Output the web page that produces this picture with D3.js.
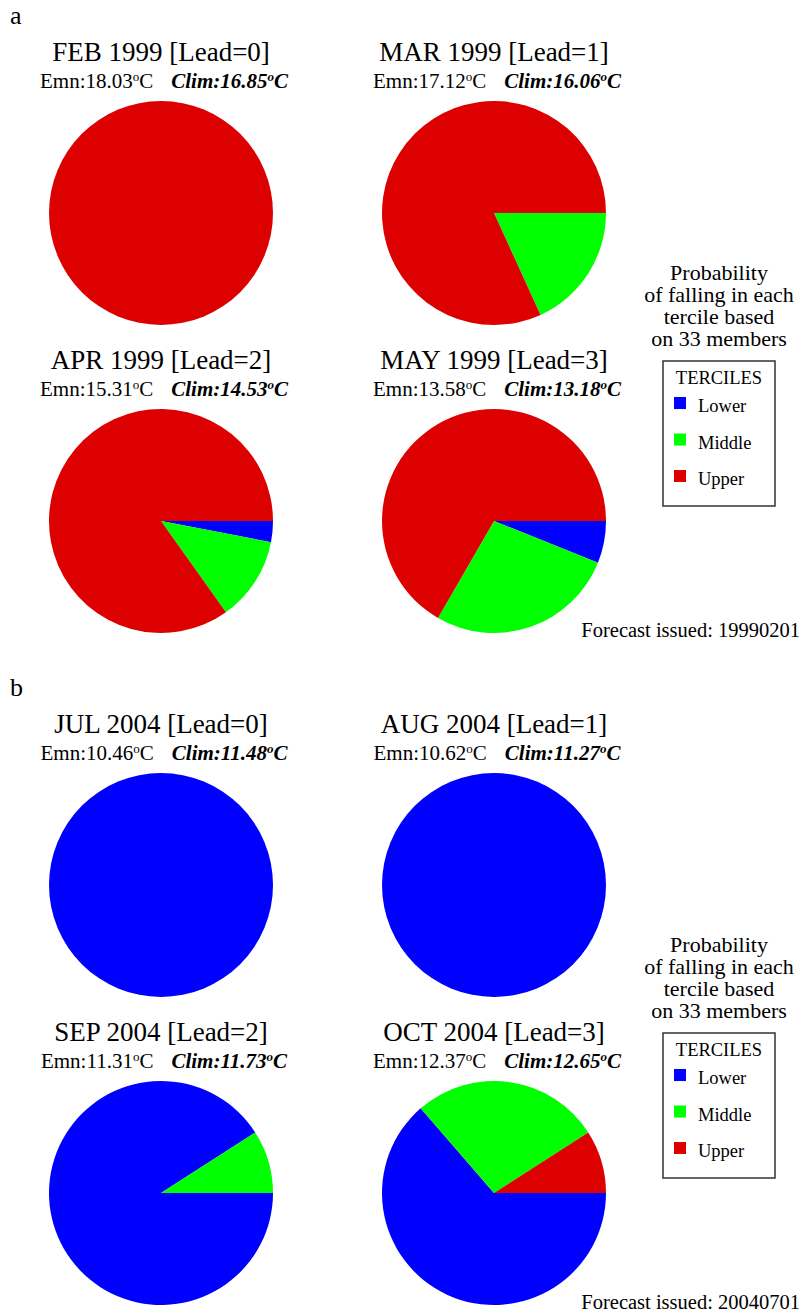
<!DOCTYPE html>
<html>
<head>
<meta charset="utf-8">
<script src="https://cdn.jsdelivr.net/npm/d3@7"></script>
<style>
  body { margin: 0; background: #fff; }
  text { font-family: "Liberation Serif", "Times New Roman", serif; fill: #000; }
</style>
</head>
<body>
<div id="chart"></div>
<script>
// panel a - forecast issued 19990201
var monthsA = ["FEB 1999", "MAR 1999", "APR 1999", "MAY 1999"];
var emnA = [18.03, 17.12, 15.31, 13.58];
var climA = [16.85, 16.06, 14.53, 13.18];
var lowerA = [0, 0, 1, 2];
var middleA = [0, 6, 4, 9];
var upperA = [33, 27, 28, 22];

// panel b - forecast issued 20040701
var monthsB = ["JUL 2004", "AUG 2004", "SEP 2004", "OCT 2004"];
var emnB = [10.46, 10.62, 11.31, 12.37];
var climB = [11.48, 11.27, 11.73, 12.65];
var lowerB = [33, 33, 30, 21];
var middleB = [0, 0, 3, 9];
var upperB = [0, 0, 0, 3];

var terciles = ["Lower", "Middle", "Upper"];
var tercColors = ["#0000ff", "#00ff00", "#dd0000"];
var leads = [0, 1, 2, 3];
var members = 33;

var w = 802, h = 1312;
var svg = d3.select("#chart").append("svg")
  .attr("width", w)
  .attr("height", h);

var color = d3.scaleOrdinal().domain(terciles).range(tercColors);

// pie grid: lead -> column/row
var xPos = d3.scalePoint().domain([0, 1]).range([161, 494]);
var yPos = d3.scalePoint().domain([0, 1]).range([213, 521]);
var r = 112;

// pie starts at 3 o'clock, goes clockwise
var pie = d3.pie()
  .sort(null)
  .value(d => d.n)
  .startAngle(Math.PI / 2)
  .endAngle(Math.PI / 2 + 2 * Math.PI);
var arc = d3.arc().innerRadius(0).outerRadius(r);

function drawPanel(g, letter, months, emn, clim, lower, middle, upper, issued) {
  g.append("text")
    .attr("x", 10).attr("y", 24)
    .style("font-size", "26px")
    .text(letter);

  leads.forEach(function(ld, i) {
    var cx = xPos(i % 2), cy = yPos(Math.floor(i / 2));
    var cell = g.append("g");

    cell.append("text")
      .attr("x", cx).attr("y", cy - 152)
      .attr("text-anchor", "middle")
      .style("font-size", "27px")
      .text(months[i] + " [Lead=" + ld + "]");

    var t = cell.append("text")
      .attr("x", cx + 3).attr("y", cy - 125)
      .attr("text-anchor", "middle")
      .style("font-size", "21px");
    t.append("tspan").text("Emn:" + emn[i].toFixed(2));
    t.append("tspan").attr("dy", -7).style("font-size", "13px").text("o");
    t.append("tspan").attr("dy", 7).text("C");
    var b = t.append("tspan").attr("dx", 18)
      .style("font-weight", "bold").style("font-style", "italic");
    b.text("Clim:" + clim[i].toFixed(2));
    t.append("tspan").attr("dy", -7).style("font-size", "13px")
      .style("font-weight", "bold").style("font-style", "italic").text("o");
    t.append("tspan").attr("dy", 7)
      .style("font-weight", "bold").style("font-style", "italic").text("C");

    var counts = [
      {k: "Lower", n: lower[i]},
      {k: "Middle", n: middle[i]},
      {k: "Upper", n: upper[i]}
    ];
    cell.append("g")
      .attr("transform", "translate(" + cx + "," + cy + ")")
      .selectAll("path")
      .data(pie(counts).filter(d => d.data.n > 0))
      .enter()
      .append("path")
      .attr("d", arc)
      .attr("fill", d => color(d.data.k));
  });

  // side note
  var note = ["Probability", "of falling in each", "tercile based", "on " + members + " members"];
  g.append("g").selectAll("text")
    .data(note)
    .enter()
    .append("text")
    .attr("x", 719)
    .attr("y", (d, i) => 280 + i * 22)
    .attr("text-anchor", "middle")
    .style("font-size", "22px")
    .text(d => d);

  // legend
  var lg = g.append("g").attr("transform", "translate(663,361)");
  lg.append("rect")
    .attr("width", 112).attr("height", 145)
    .attr("fill", "none")
    .attr("stroke", "#333")
    .attr("stroke-width", 1.5);
  lg.append("text")
    .attr("x", 56).attr("y", 23)
    .attr("text-anchor", "middle")
    .style("font-size", "18.5px")
    .text("TERCILES");
  var rows = lg.selectAll(".row")
    .data(terciles)
    .enter()
    .append("g")
    .attr("class", "row")
    .attr("transform", (d, i) => "translate(11," + (36 + i * 36.5) + ")");
  rows.append("rect")
    .attr("width", 12).attr("height", 12)
    .attr("fill", d => color(d));
  rows.append("text")
    .attr("x", 24).attr("y", 15)
    .style("font-size", "18.5px")
    .text(d => d);

  g.append("text")
    .attr("x", 800).attr("y", 637)
    .attr("text-anchor", "end")
    .style("font-size", "20.5px")
    .text("Forecast issued: " + issued);
}

drawPanel(svg.append("g"), "a", monthsA, emnA, climA, lowerA, middleA, upperA, "19990201");
drawPanel(svg.append("g").attr("transform", "translate(0,672)"), "b", monthsB, emnB, climB, lowerB, middleB, upperB, "20040701");
</script>
</body>
</html>
